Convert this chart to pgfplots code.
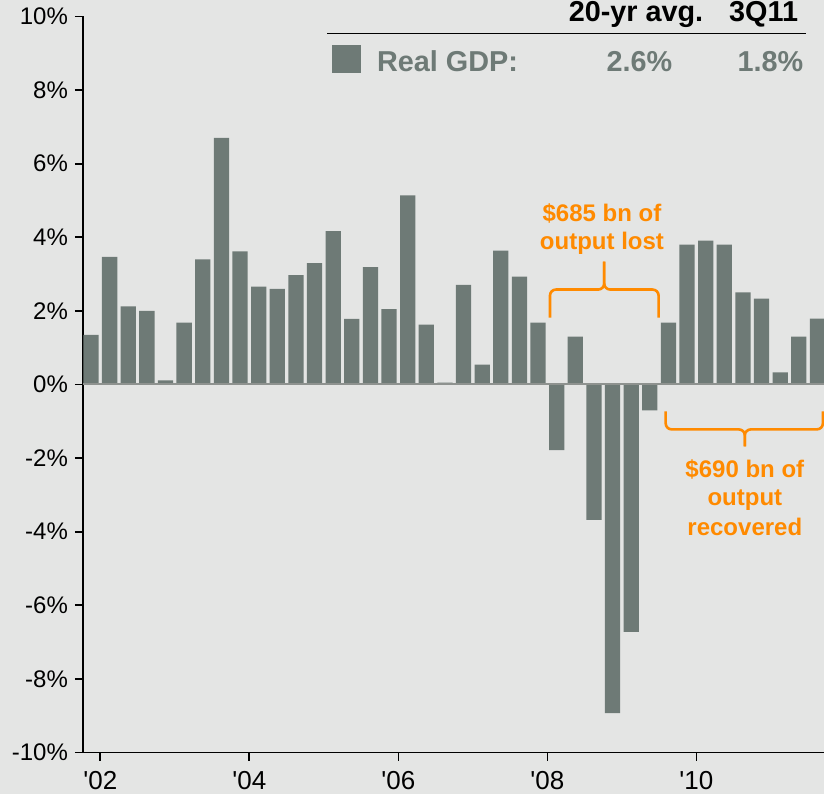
\documentclass[border=0pt]{standalone}
\usepackage{pgfplots}
\pgfplotsset{compat=1.18}
\usepackage{fontspec}
\setmainfont{Liberation Sans}
\usetikzlibrary{backgrounds}
\definecolor{bg}{HTML}{E4E5E4}
\definecolor{bargray}{HTML}{6E7A76}
\definecolor{zerogray}{HTML}{8E928F}
\definecolor{annot}{HTML}{FF8A00}

\begin{document}
\begin{tikzpicture}[show background rectangle,
    background rectangle/.style={fill=bg, draw=none},
    inner frame sep=0pt]
\begin{axis}[
    scale only axis,
    width=370.5pt, height=368pt,
    xmin=-0.43, xmax=39.35,
    ymin=-10, ymax=10,
    axis x line*=bottom, axis y line*=left,
    axis line style={line width=0.85pt, black, -},
    xtick={0.5,8.5,16.5,24.5,32.5},
    xticklabels={\textquotesingle02,\textquotesingle04,\textquotesingle06,\textquotesingle08,\textquotesingle10},
    ytick={-10,-8,...,10},
    yticklabels={-10\%,-8\%,-6\%,-4\%,-2\%,0\%,2\%,4\%,6\%,8\%,10\%},
    tick align=outside,
    major tick length=4pt,
    tick style={line width=0.85pt, black},
    yticklabel style={font=\fontsize{12}{14}\selectfont},
    xticklabel style={font=\fontsize{13}{15}\selectfont, yshift=-2pt},
    ybar, bar width=0.82,
    clip mode=individual,
]

% real GDP growth, 4Q01 to 3Q11
\addplot[fill=bargray, draw=none] coordinates {
    (0,1.35) (1,3.47) (2,2.12) (3,2.00) (4,0.11) (5,1.68) (6,3.40) (7,6.70)
    (8,3.62) (9,2.66) (10,2.60) (11,2.97) (12,3.30) (13,4.17) (14,1.78) (15,3.19)
    (16,2.05) (17,5.14) (18,1.63) (19,0.05) (20,2.71) (21,0.54) (22,3.64) (23,2.93)
    (24,1.68) (25,-1.78) (26,1.30) (27,-3.68) (28,-8.93) (29,-6.72) (30,-0.70) (31,1.68)
    (32,3.80) (33,3.91) (34,3.80) (35,2.50) (36,2.33) (37,0.33) (38,1.30) (39,1.79)
};

\draw[zerogray, line width=1pt] (axis cs:-0.43,0) -- (axis cs:39.35,0);

% header
\node[anchor=base east, inner sep=0, font=\bfseries\fontsize{14.4}{16}\selectfont]
    at (axis cs:32.89,9.86) {20-yr avg.};
\node[anchor=base east, inner sep=0, font=\bfseries\fontsize{14.4}{16}\selectfont]
    at (axis cs:37.98,9.86) {3Q11};
\draw[black, line width=0.85pt] (axis cs:12.67,9.54) -- (axis cs:38.38,9.54);
\fill[bargray] (axis cs:12.94,9.23) rectangle (axis cs:14.49,8.47);
\node[anchor=base west, inner sep=0, text=bargray, font=\bfseries\fontsize{14.4}{16}\selectfont]
    at (axis cs:15.34,8.50) {Real GDP:};
\node[anchor=base east, inner sep=0, text=bargray, font=\bfseries\fontsize{14.4}{16}\selectfont]
    at (axis cs:31.22,8.50) {2.6\%};
\node[anchor=base east, inner sep=0, text=bargray, font=\bfseries\fontsize{14.4}{16}\selectfont]
    at (axis cs:38.26,8.50) {1.8\%};

% output lost
\node[anchor=base, inner sep=0, text=annot, font=\bfseries\fontsize{12}{14}\selectfont]
    at (axis cs:27.43,4.42) {\$685 bn of};
\node[anchor=base, inner sep=0, text=annot, font=\bfseries\fontsize{12}{14}\selectfont]
    at (axis cs:27.43,3.66) {output lost};
\draw[annot, line width=1.3pt, rounded corners=3pt]
    (axis cs:24.64,1.82) -- (axis cs:24.64,2.58) -- (axis cs:27.55,2.58) -- (axis cs:27.55,3.34);
\draw[annot, line width=1.3pt, rounded corners=3pt]
    (axis cs:30.47,1.82) -- (axis cs:30.47,2.58) -- (axis cs:27.55,2.58) -- (axis cs:27.55,3.34);

% output recovered
\draw[annot, line width=1.3pt, rounded corners=3pt]
    (axis cs:30.85,-0.73) -- (axis cs:30.85,-1.22) -- (axis cs:35.1,-1.22) -- (axis cs:35.1,-1.68);
\draw[annot, line width=1.3pt, rounded corners=3pt]
    (axis cs:39.29,-0.73) -- (axis cs:39.29,-1.22) -- (axis cs:35.1,-1.22) -- (axis cs:35.1,-1.68);
\node[anchor=base, inner sep=0, text=annot, font=\bfseries\fontsize{12}{14}\selectfont]
    at (axis cs:35.1,-2.52) {\$690 bn of};
\node[anchor=base, inner sep=0, text=annot, font=\bfseries\fontsize{12}{14}\selectfont]
    at (axis cs:35.1,-3.30) {output};
\node[anchor=base, inner sep=0, text=annot, font=\bfseries\fontsize{12}{14}\selectfont]
    at (axis cs:35.1,-4.10) {recovered};

\coordinate (BL) at (axis cs:-4.885,-11.126);
\coordinate (TR) at (axis cs:39.35,10.448);
\end{axis}
\pgfresetboundingbox
\path[use as bounding box] (BL) rectangle (TR);
\end{tikzpicture}
\end{document}
